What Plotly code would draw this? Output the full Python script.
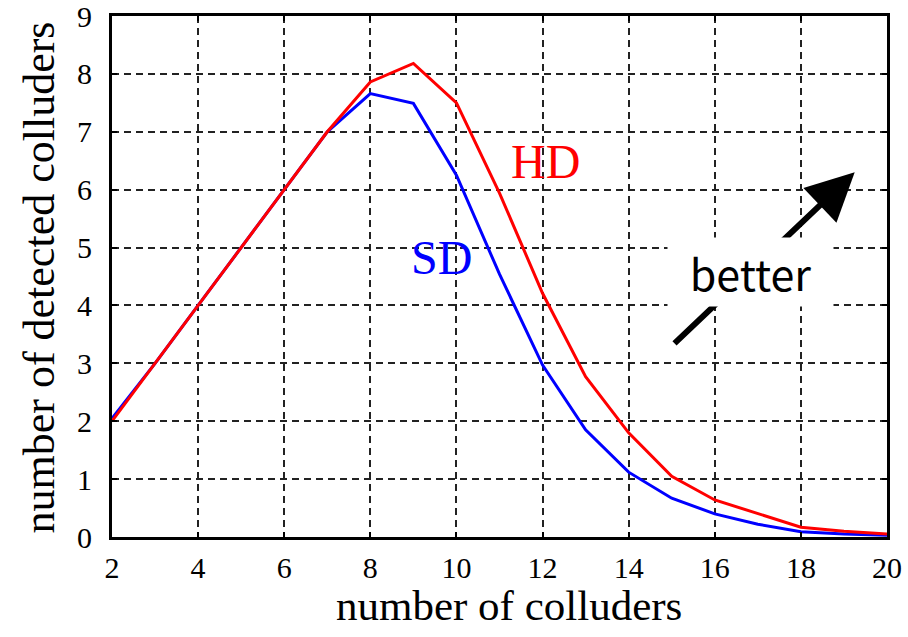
import plotly.graph_objects as go

colluders = [2, 3, 4, 5, 6, 7, 8, 9, 10, 11, 12, 13, 14, 15, 16, 17, 18, 19, 20]
hd_values = [2.0, 3.0, 4.0, 5.0, 6.0, 7.0, 7.86, 8.18, 7.5, 5.94, 4.21, 2.77, 1.8, 1.05, 0.64, 0.4, 0.17, 0.1, 0.05]
sd_values = [2.05, 3.0, 4.0, 5.0, 6.0, 7.0, 7.66, 7.49, 6.25, 4.54, 2.97, 1.85, 1.12, 0.67, 0.4, 0.22, 0.09, 0.05, 0.03]
x_ticks = [2, 4, 6, 8, 10, 12, 14, 16, 18, 20]
y_ticks = [0, 1, 2, 3, 4, 5, 6, 7, 8, 9]

serif = "Liberation Serif, Times New Roman, serif"

fig = go.Figure()
fig.add_trace(go.Scatter(x=colluders, y=sd_values, mode="lines", name="SD",
                         line=dict(color="#0000ff", width=3)))
fig.add_trace(go.Scatter(x=colluders, y=hd_values, mode="lines", name="HD",
                         line=dict(color="#ff0000", width=3)))

axis_common = dict(
    showline=True, linecolor="black", linewidth=3, mirror="ticks",
    ticks="inside", ticklen=5, tickwidth=2, tickcolor="black",
    showgrid=True, gridcolor="#222222", gridwidth=1.5, griddash="7px,5px",
    zeroline=False, tickfont=dict(family=serif, size=30, color="black"),
    ticklabeloverflow="allow", automargin=False,
)

fig.update_xaxes(range=[2, 20], tickvals=x_ticks, ticklabelstandoff=2, **axis_common)
fig.update_yaxes(range=[0, 9], tickvals=y_ticks, ticklabelstandoff=11, **axis_common)

# axis titles
fig.add_annotation(x=0.512, y=-0.132, xref="paper", yref="paper", text="number of colluders",
                   showarrow=False, xanchor="center", yanchor="middle",
                   font=dict(family=serif, size=43, color="black"))
fig.add_annotation(x=-0.093, y=0.498, xref="paper", yref="paper", text="number of detected colluders",
                   showarrow=False, xanchor="center", yanchor="middle", textangle=-90,
                   font=dict(family=serif, size=44, color="black"))

fig.add_annotation(x=12.06, y=6.48, text="HD", showarrow=False,
                   font=dict(family=serif, size=48, color="#ff0000"))
fig.add_annotation(x=9.66, y=4.82, text="SD", showarrow=False,
                   font=dict(family=serif, size=48, color="#0000ff"))

# arrow
fig.add_annotation(x=19.25, y=6.3, ax=15.03, ay=3.32, axref="x", ayref="y",
                   xref="x", yref="y", text="", showarrow=True,
                   arrowhead=2, arrowsize=1.6, arrowwidth=6, arrowcolor="black")
# label with white background covering the arrow middle
fig.add_annotation(x=16.83, y=4.58, text="better", showarrow=False,
                   bgcolor="white", width=165, height=68, borderpad=0,
                   font=dict(family="Noto Sans CJK JP, Noto Sans, sans-serif", size=43, color="black"))

fig.update_layout(
    width=908, height=637,
    margin=dict(l=112, r=21, t=16, b=100),
    plot_bgcolor="white", paper_bgcolor="white",
    showlegend=False,
)

fig.write_html("out.html")
